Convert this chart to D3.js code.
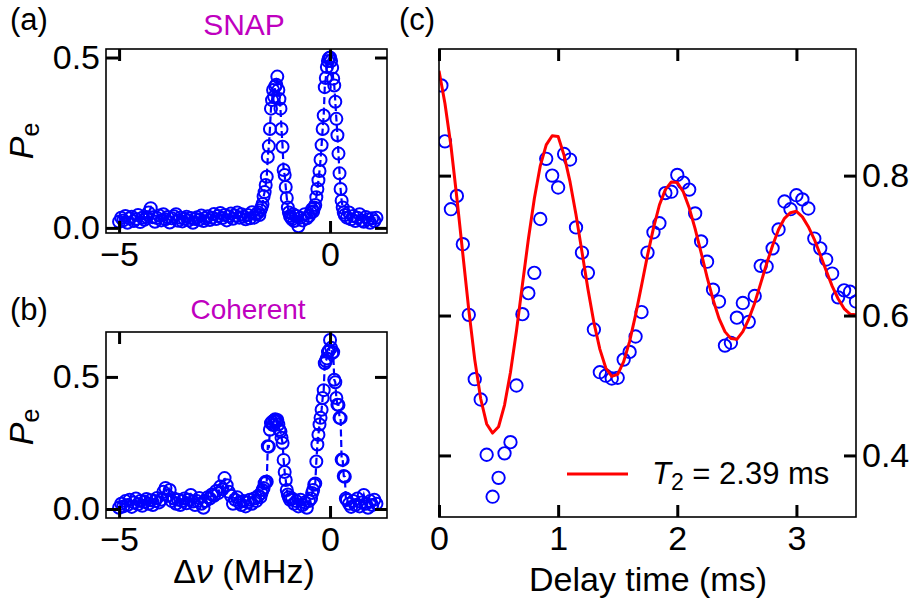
<!DOCTYPE html>
<html>
<head>
<meta charset="utf-8">
<script src="https://cdn.jsdelivr.net/npm/d3@7"></script>
<style>
  html, body { margin: 0; padding: 0; background: #fff; }
  svg { display: block; }
</style>
</head>
<body>
<div id="chart"></div>
<script>
// ---------------- DATA ----------------
// Panel (a) SNAP spectroscopy: detuning (MHz) and excited-state population
const snapDetuning = [
  -5.00,-4.95,-4.90,-4.85,-4.80,-4.75,-4.70,-4.65,-4.60,-4.55,-4.50,-4.45,-4.40,-4.35,-4.30,-4.25,-4.20,-4.15,-4.10,-4.05,
  -4.00,-3.95,-3.90,-3.85,-3.80,-3.75,-3.70,-3.65,-3.60,-3.55,-3.50,-3.45,-3.40,-3.35,-3.30,-3.25,-3.20,-3.15,-3.10,-3.05,
  -3.00,-2.95,-2.90,-2.85,-2.80,-2.75,-2.70,-2.65,-2.60,-2.55,-2.50,-2.45,-2.40,-2.35,-2.30,-2.25,-2.20,-2.15,-2.10,-2.05,
  -2.00,-1.95,-1.90,-1.85,-1.80,-1.75,
  -1.700,-1.675,-1.650,-1.625,-1.600,-1.575,-1.550,-1.525,-1.500,-1.475,-1.450,-1.425,-1.400,-1.375,-1.350,-1.325,-1.300,
  -1.275,-1.250,-1.225,-1.200,-1.175,-1.150,-1.125,-1.100,-1.075,-1.050,-1.025,-1.000,-0.975,-0.950,-0.925,-0.900,
  -0.875,-0.85,-0.80,-0.75,-0.70,-0.65,-0.60,-0.55,-0.50,-0.45,-0.425,-0.40,
  -0.375,-0.350,-0.325,-0.300,-0.275,-0.250,-0.225,-0.200,-0.175,-0.150,-0.125,-0.100,-0.075,-0.050,-0.025,0.000,
  0.025,0.050,0.075,0.100,0.125,0.150,0.175,0.200,0.225,0.250,0.275,0.300,0.325,0.350,
  0.40,0.45,0.50,0.55,0.60,0.65,0.70,0.75,0.80,0.85,0.90,0.95,1.00,1.05,1.10
];
const snapPe = [
  0.018,0.030,0.022,0.035,0.015,0.028,0.033,0.020,0.026,0.038,0.017,0.030,0.024,0.032,0.045,0.058,0.031,0.018,0.029,0.036,
  0.022,0.040,0.025,0.032,0.016,0.028,0.034,0.040,0.021,0.030,0.019,0.027,0.033,0.022,0.029,0.015,0.026,0.031,0.024,0.036,
  0.020,0.028,0.034,0.023,0.030,0.041,0.026,0.035,0.044,0.029,0.038,0.022,0.034,0.042,0.027,0.036,0.045,0.030,0.040,0.033,
  0.025,0.038,0.028,0.046,0.030,0.040,
  0.045,0.038,0.052,0.060,0.070,0.092,0.105,0.126,0.150,0.208,0.240,0.290,0.350,0.375,0.405,0.385,0.415,
  0.420,0.444,0.405,0.378,0.350,0.290,0.238,0.170,0.155,0.120,0.088,0.060,0.045,0.035,0.030,0.025,
  0.040,0.020,0.035,0.005,0.030,0.022,0.040,0.028,0.035,0.045,0.055,0.048,
  0.060,0.067,0.090,0.114,0.140,0.167,0.200,0.243,0.290,0.330,0.413,0.440,0.472,0.490,0.498,0.500,
  0.490,0.470,0.438,0.418,0.370,0.320,0.272,0.218,0.160,0.114,0.080,0.060,0.045,0.038,
  0.030,0.045,0.025,0.035,0.020,0.030,0.040,0.022,0.018,0.032,0.025,0.015,0.028,0.020,0.030
];

// Panel (b) coherent-state spectroscopy
const cohDetuning = [
  -5.00,-4.95,-4.90,-4.85,-4.80,-4.75,-4.70,-4.65,-4.60,-4.55,-4.50,-4.45,-4.40,-4.35,-4.30,-4.25,-4.20,-4.15,-4.10,-4.05,
  -4.00,-3.95,-3.90,-3.85,-3.80,-3.75,-3.70,-3.65,-3.60,-3.55,-3.50,-3.45,-3.40,-3.35,-3.30,-3.25,-3.20,-3.15,-3.10,-3.05,
  -3.00,-2.95,-2.90,-2.85,-2.80,-2.75,-2.70,-2.65,-2.60,-2.55,-2.50,-2.45,-2.40,-2.35,-2.30,-2.25,-2.20,-2.15,-2.10,-2.05,
  -2.00,-1.95,-1.90,-1.85,-1.80,-1.75,-1.70,-1.65,
  -1.625,-1.600,-1.575,-1.550,-1.525,-1.500,-1.475,-1.450,-1.425,-1.400,-1.375,-1.350,-1.325,-1.300,-1.275,-1.250,
  -1.225,-1.200,-1.175,-1.150,-1.125,-1.100,-1.075,-1.050,-1.025,-1.000,-0.975,-0.950,
  -0.90,-0.85,-0.80,-0.75,-0.70,-0.65,-0.60,-0.55,-0.50,-0.45,-0.425,
  -0.400,-0.375,-0.350,-0.325,-0.300,-0.275,-0.250,-0.225,-0.200,-0.175,-0.150,-0.125,-0.100,-0.075,-0.050,-0.025,0.000,
  0.025,0.050,0.075,0.100,0.125,0.150,0.175,0.200,0.225,0.250,0.275,0.300,0.325,0.350,0.375,0.400,
  0.45,0.50,0.55,0.60,0.65,0.70,0.75,0.80,0.85,0.90,0.95,1.00,1.05,1.10
];
const cohPe = [
  0.005,0.020,0.010,0.030,0.015,0.035,0.008,0.025,0.040,0.018,0.030,0.012,0.028,0.038,0.020,0.033,0.015,0.030,0.042,0.025,
  0.035,0.065,0.080,0.050,0.072,0.030,0.040,0.020,0.035,0.015,0.030,0.040,0.022,0.035,0.053,0.028,0.015,0.030,0.042,0.020,
  0.005,0.030,0.045,0.040,0.055,0.050,0.068,0.060,0.085,0.075,0.117,0.090,0.065,0.050,0.020,0.035,0.045,0.025,0.015,0.030,
  0.010,0.025,0.035,0.020,0.040,0.030,0.050,0.045,
  0.060,0.072,0.080,0.098,0.103,0.103,0.238,0.236,0.300,0.325,0.330,0.318,0.335,0.340,0.330,0.337,
  0.320,0.300,0.293,0.270,0.250,0.186,0.140,0.110,0.072,0.055,0.045,0.035,
  0.040,0.020,0.030,0.010,0.035,0.015,0.025,0.005,0.030,0.040,0.061,
  0.072,0.092,0.097,0.180,0.244,0.281,0.320,0.345,0.376,0.420,0.450,0.552,0.560,0.570,0.594,0.600,0.640,
  0.610,0.590,0.594,0.489,0.480,0.420,0.395,0.394,0.345,0.344,0.187,0.186,0.125,0.122,0.040,0.034,
  0.020,0.008,0.030,0.015,0.040,0.010,0.025,0.053,0.020,0.005,0.030,0.015,0.035,0.020
];

// Panel (c) Ramsey-type oscillation: delay time (ms), measured signal
const delayTime = [
  0.02,0.05,0.10,0.15,0.20,0.25,0.30,0.35,0.40,0.45,0.50,0.55,0.60,0.65,0.70,0.75,0.80,0.85,0.90,0.95,
  1.00,1.05,1.10,1.15,1.20,1.25,1.30,1.35,1.40,1.45,1.50,1.55,1.60,1.65,1.70,1.75,1.80,1.85,1.90,1.95,
  2.00,2.05,2.10,2.15,2.20,2.25,2.30,2.35,2.40,2.45,2.50,2.55,2.60,2.65,2.70,2.75,2.80,2.85,2.90,2.95,
  3.00,3.05,3.10,3.15,3.20,3.25,3.30,3.35,3.40,3.45,3.50
];
const signal = [
  0.929,0.849,0.752,0.771,0.702,0.601,0.509,0.480,0.401,0.341,0.368,0.403,0.419,0.500,0.602,0.632,0.661,0.738,0.824,0.800,
  0.783,0.831,0.823,0.726,0.690,0.661,0.580,0.519,0.514,0.510,0.511,0.537,0.548,0.570,0.605,0.690,0.719,0.732,0.775,0.777,
  0.801,0.790,0.780,0.746,0.706,0.677,0.637,0.620,0.557,0.561,0.597,0.618,0.591,0.628,0.671,0.670,0.696,0.723,0.763,0.752,
  0.772,0.766,0.753,0.710,0.696,0.680,0.660,0.626,0.636,0.634,0.620
];

// Fit curve
const fitTime = [
  0.00,0.05,0.10,0.15,0.20,0.25,0.30,0.35,0.40,0.45,0.50,0.55,0.60,0.65,0.70,0.75,0.80,0.85,0.90,0.95,
  1.00,1.05,1.10,1.15,1.20,1.25,1.30,1.35,1.40,1.45,1.50,1.55,1.60,1.65,1.70,1.75,1.80,1.85,1.90,1.95,
  2.00,2.05,2.10,2.15,2.20,2.25,2.30,2.35,2.40,2.45,2.50,2.55,2.60,2.65,2.70,2.75,2.80,2.85,2.90,2.95,
  3.00,3.05,3.10,3.15,3.20,3.25,3.30,3.35,3.40,3.45,3.50
];
const fitSignal = [
  0.950,0.903,0.843,0.768,0.688,0.608,0.537,0.481,0.445,0.432,0.441,0.472,0.519,0.578,0.644,0.709,0.767,0.814,0.844,0.857,
  0.856,0.829,0.791,0.744,0.691,0.638,0.590,0.552,0.525,0.513,0.516,0.534,0.563,0.601,0.643,0.686,0.725,0.758,0.780,0.791,
  0.790,0.777,0.754,0.724,0.690,0.655,0.623,0.596,0.577,0.567,0.566,0.577,0.595,0.618,0.646,0.674,0.700,0.723,0.739,0.747,
  0.749,0.741,0.727,0.709,0.687,0.664,0.642,0.624,0.610,0.602,0.601
];

// Tick values / labels
const spectroXTicks = [-5, 0];
const snapYTicks = [0, 0.5];
const cohYTicks = [0, 0.5];
const spectroYTickLabels = ["0.0", "0.5"];
const delayXTicks = [0, 1, 2, 3];
const signalYTicks = [0.4, 0.6, 0.8];

const panelLabels = ["(a)", "(b)", "(c)"];
const titleA = "SNAP";
const titleB = "Coherent";
const xLabelSpectro = { pre: "Δ", italic: "ν", post: " (MHz)" };
const xLabelDelay = "Delay time (ms)";
const legendText = { italic: "T", sub: "2", rest: " = 2.39 ms" };

// ---------------- DRAWING ----------------
const W = 917, H = 603;
const FONT = "'Liberation Sans', Arial, Helvetica, sans-serif";
const FS = 34;
const BLUE = "#0000ff", RED = "#ff0000", MAGENTA = "#bf00bf";

const svg = d3.select("#chart").append("svg")
  .attr("width", W).attr("height", H)
  .style("font-family", FONT);

const defs = svg.append("defs");

function frame(g, x, y, opts) {
  const [x0, x1] = x.range();
  const [y0, y1] = y.range(); // y0 bottom, y1 top
  const tickLen = 12;
  const style = (sel) => {
    sel.select(".domain").remove();
    sel.selectAll(".tick line").attr("stroke", "#000").attr("stroke-width", 3);
    sel.selectAll(".tick text").attr("font-size", FS).attr("fill", "#000").style("font-family", FONT);
  };
  const bottom = d3.axisBottom(x).tickValues(opts.xTicks).tickSizeInner(-tickLen).tickSizeOuter(0)
    .tickPadding(9).tickFormat(opts.xFormat);
  g.append("g").attr("transform", `translate(0,${y0})`).call(bottom).call(style);
  const top = d3.axisTop(x).tickValues(opts.xTicks).tickSizeInner(-tickLen).tickSizeOuter(0).tickFormat("");
  g.append("g").attr("transform", `translate(0,${y1})`).call(top).call(style);
  const left = d3.axisLeft(y).tickValues(opts.yTicks).tickSizeInner(-tickLen).tickSizeOuter(0)
    .tickPadding(6).tickFormat(opts.leftFormat || "");
  g.append("g").attr("transform", `translate(${x0},0)`).call(left).call(style);
  const right = d3.axisRight(y).tickValues(opts.yTicks).tickSizeInner(-tickLen).tickSizeOuter(0)
    .tickPadding(6).tickFormat(opts.rightFormat || "");
  g.append("g").attr("transform", `translate(${x1},0)`).call(right).call(style);
  g.append("rect").attr("x", x0).attr("y", y1).attr("width", x1 - x0).attr("height", y0 - y1)
    .attr("fill", "none").attr("stroke", "#000").attr("stroke-width", 1.6);
}

function clip(id, x, y) {
  const [x0, x1] = x.range();
  const [y0, y1] = y.range();
  defs.append("clipPath").attr("id", id).append("rect")
    .attr("x", x0).attr("y", y1 - 8).attr("width", x1 - x0).attr("height", y0 - y1 + 8);
  return `url(#${id})`;
}

function peLabel(cx, cy) {
  const t = svg.append("text")
    .attr("transform", `translate(${cx},${cy}) rotate(-90)`)
    .attr("text-anchor", "middle")
    .attr("font-size", FS).attr("fill", "#000");
  t.append("tspan").attr("font-style", "italic").text("P");
  t.append("tspan").attr("font-size", 25).attr("dy", 6).text("e");
}

function spectroPanel(xs, ys, yDomain, yRange, yTicks, clipId) {
  const x = d3.scaleLinear().domain([-5.31, 1.35]).range([106, 387]);
  const y = d3.scaleLinear().domain(yDomain).range(yRange);
  const g = svg.append("g");
  const pts = xs.map((d, i) => [d, ys[i]]);
  const dg = g.append("g").attr("clip-path", clip(clipId, x, y));
  dg.append("path")
    .attr("d", d3.line().x(d => x(d[0])).y(d => y(d[1]))(pts))
    .attr("fill", "none").attr("stroke", BLUE).attr("stroke-width", 2.2)
    .attr("stroke-dasharray", "7,3.5");
  dg.selectAll("circle").data(pts).join("circle")
    .attr("cx", d => x(d[0])).attr("cy", d => y(d[1])).attr("r", 6)
    .attr("fill", "none").attr("stroke", BLUE).attr("stroke-width", 2);
  frame(g, x, y, {
    xTicks: spectroXTicks, xFormat: d3.format("d"),
    yTicks: yTicks, leftFormat: (d, i) => spectroYTickLabels[i]
  });
  return { x, y };
}

spectroPanel(snapDetuning, snapPe, [-0.015, 0.525], [233, 49], snapYTicks, "clipA");
spectroPanel(cohDetuning, cohPe, [-0.034, 0.67], [518, 332], cohYTicks, "clipB");

{
  const x = d3.scaleLinear().domain([0, 3.5]).range([439, 856]);
  const y = d3.scaleLinear().domain([0.312, 0.981]).range([517, 49]);
  const g = svg.append("g");
  const [x0, x1] = x.range();
  const [y0, y1] = y.range();
  defs.append("clipPath").attr("id", "clipC").append("rect")
    .attr("x", x0).attr("y", y1).attr("width", x1 - x0).attr("height", y0 - y1);
  const dg = g.append("g").attr("clip-path", "url(#clipC)");
  const pts = delayTime.map((d, i) => [d, signal[i]]);
  dg.selectAll("circle").data(pts).join("circle")
    .attr("cx", d => x(d[0])).attr("cy", d => y(d[1])).attr("r", 6.2)
    .attr("fill", "none").attr("stroke", BLUE).attr("stroke-width", 1.9);
  const fit = fitTime.map((d, i) => [d, fitSignal[i]]);
  dg.append("path")
    .attr("d", d3.line().x(d => x(d[0])).y(d => y(d[1]))(fit))
    .attr("fill", "none").attr("stroke", RED).attr("stroke-width", 3)
    .attr("stroke-linejoin", "round");
  frame(g, x, y, {
    xTicks: delayXTicks, xFormat: d3.format("d"),
    yTicks: signalYTicks, rightFormat: d3.format(".1f")
  });
  g.append("line").attr("x1", 567).attr("x2", 628).attr("y1", 474).attr("y2", 474)
    .attr("stroke", RED).attr("stroke-width", 3);
  const lt = g.append("text").attr("x", 652).attr("y", 484).attr("font-size", 31).attr("fill", "#000");
  lt.append("tspan").attr("font-style", "italic").text(legendText.italic);
  lt.append("tspan").attr("font-size", 23).attr("dy", 6).text(legendText.sub);
  lt.append("tspan").attr("dy", -6).text(legendText.rest);
  svg.append("text").attr("x", 648).attr("y", 591).attr("text-anchor", "middle")
    .attr("font-size", FS).attr("fill", "#000").text(xLabelDelay);
}

svg.append("text").attr("x", 244).attr("y", 35).attr("text-anchor", "middle")
  .attr("font-size", 30).attr("fill", MAGENTA).text(titleA);
svg.append("text").attr("x", 248).attr("y", 319).attr("text-anchor", "middle")
  .attr("font-size", 28).attr("fill", MAGENTA).text(titleB);
{
  const t = svg.append("text").attr("x", 244).attr("y", 583).attr("text-anchor", "middle")
    .attr("font-size", FS).attr("fill", "#000");
  t.append("tspan").text(xLabelSpectro.pre);
  t.append("tspan").attr("font-style", "italic").text(xLabelSpectro.italic);
  t.append("tspan").text(xLabelSpectro.post);
}

peLabel(33, 141);
peLabel(33, 427);

const labelPos = [[10, 30], [10, 320], [399, 30]];
panelLabels.forEach((t, i) => {
  svg.append("text").attr("x", labelPos[i][0]).attr("y", labelPos[i][1])
    .attr("font-size", 31).attr("fill", "#000").text(t);
});
</script>
</body>
</html>
